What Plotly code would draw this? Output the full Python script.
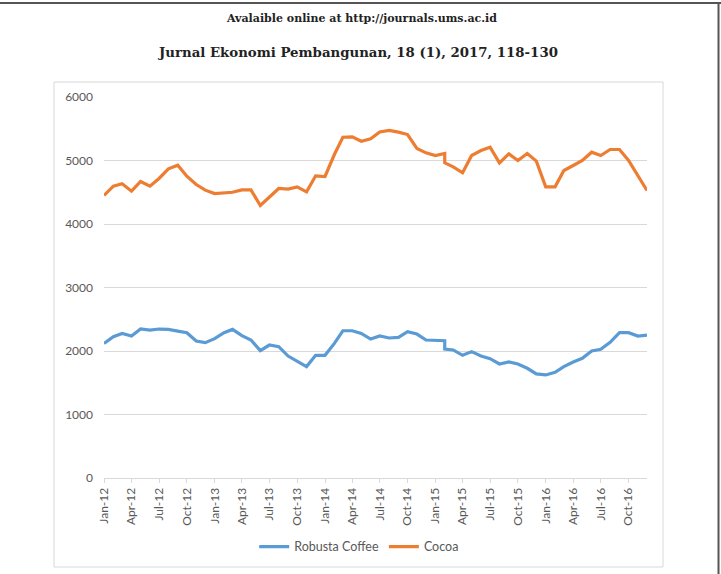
import pandas as pd
import plotly.graph_objects as go

# ---- data ----
months = list(pd.date_range("2012-01-01", periods=60, freq="MS"))
# the source series contains a repeated Feb-2015 observation (vertical step)
x_dates = months[:38] + [months[37]] + months[38:]

robusta_coffee = [
    2120, 2225, 2277, 2236, 2346, 2330, 2346, 2340, 2314, 2288, 2157, 2131,
    2194, 2288, 2340, 2241, 2173, 2005, 2094, 2068, 1921, 1832, 1754, 1932,
    1932, 2120, 2319, 2319, 2277, 2188, 2236, 2205, 2215, 2304, 2267, 2173,
    2162, 2162, 2031, 2016, 1932, 1990, 1921, 1880, 1796, 1827, 1796, 1728, 1639,
    1623, 1665, 1754, 1827, 1885, 2000, 2026, 2136, 2288, 2288, 2236, 2251,
]
cocoa = [
    4449, 4596, 4633, 4517, 4669, 4596, 4717, 4869, 4927, 4753, 4622, 4533,
    4480, 4485, 4500, 4538, 4538, 4291, 4428, 4559, 4549, 4585, 4507, 4759,
    4748, 5094, 5367, 5373, 5304, 5341, 5450, 5475, 5446, 5409, 5189, 5121,
    5079, 5110, 4963, 4900, 4806, 5079, 5157, 5210, 4963, 5105, 5000, 5110, 4990,
    4585, 4585, 4843, 4921, 5000, 5131, 5079, 5173, 5173, 5000, 4753, 4528,
]
series_names = ["Robusta Coffee", "Cocoa"]
series_colors = ["#5B9BD5", "#ED7D31"]
header_line1 = "Avalaible online at http://journals.ums.ac.id"
header_line2 = "Jurnal Ekonomi Pembangunan, 18 (1), 2017, 118-130"

fig = go.Figure()
for name, vals, col in zip(series_names, [robusta_coffee, cocoa], series_colors):
    fig.add_trace(go.Scatter(
        x=x_dates, y=vals, mode="lines", name=name,
        line=dict(color=col, width=3.2),
    ))

font_main = "Lato, 'Open Sans', sans-serif"

fig.update_layout(
    width=721, height=574,
    margin=dict(l=104, r=74, t=97, b=96),
    paper_bgcolor="white", plot_bgcolor="white",
    font=dict(family=font_main, color="#595959", size=12),
    showlegend=True,
    legend=dict(orientation="h", x=0.47, xanchor="center", y=-0.181, yanchor="middle",
                font=dict(size=12.5, color="#595959"), itemwidth=30,
                bgcolor="rgba(0,0,0,0)", tracegroupgap=0),
    xaxis=dict(
        type="date",
        range=[months[0], months[-1]],
        tick0=months[0], dtick="M3", tickformat="%b-%y",
        tickangle=-90,
        showgrid=False, zeroline=False,
        showline=True, linecolor="#D9D9D9", linewidth=1,
        ticks="outside", ticklen=4, tickcolor="#D9D9D9",
        tickfont=dict(size=12, color="#595959"),
        fixedrange=True,
    ),
    yaxis=dict(
        range=[0, 6000], dtick=1000,
        showgrid=True, gridcolor="#D9D9D9", gridwidth=1,
        zeroline=False, showline=False,
        ticks="", ticklabelstandoff=10,
        tickfont=dict(size=12, color="#595959"),
        fixedrange=True,
    ),
    shapes=[
        # chart frame
        dict(type="rect", xref="paper", yref="paper",
             x0=-0.0921, x1=1.0295, y0=-0.2336, y1=1.0394,
             line=dict(color="#D9D9D9", width=1), layer="below"),
        # page border (top and right)
        dict(type="line", xref="paper", yref="paper",
             x0=-0.2, x1=1.2, y0=1.2467, y1=1.2467,
             line=dict(color="#555555", width=2)),
        dict(type="line", xref="paper", yref="paper",
             x0=1.1317, x1=1.1317, y0=-0.26, y1=1.2467,
             line=dict(color="#555555", width=2)),
    ],
    annotations=[
        dict(text="<b>" + header_line1 + "</b>", xref="paper", yref="paper",
             x=0.4733, y=1.2073, xanchor="center", yanchor="middle",
             showarrow=False,
             font=dict(family="'DejaVu Serif', serif", size=11, color="#222222")),
        dict(text="<b>" + header_line2 + "</b>", xref="paper", yref="paper",
             x=0.4678, y=1.118, xanchor="center", yanchor="middle",
             showarrow=False,
             font=dict(family="'DejaVu Serif', serif", size=13.3, color="#222222")),
    ],
)

fig.write_html("out.html")
